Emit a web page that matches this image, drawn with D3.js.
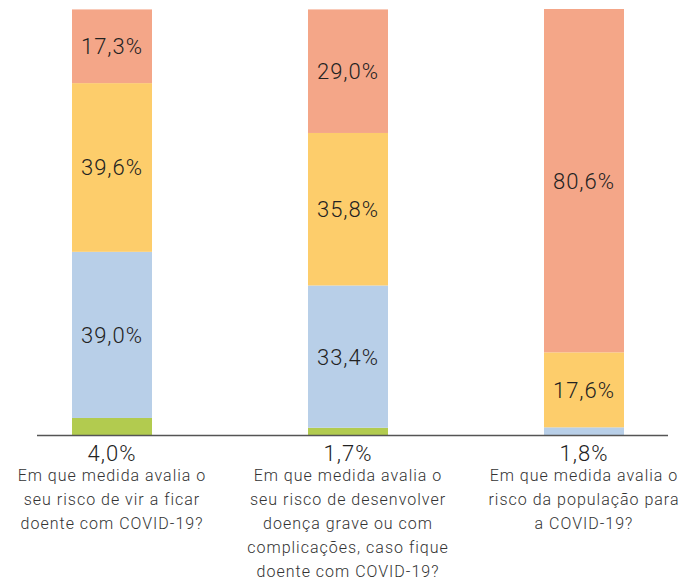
<!DOCTYPE html>
<html>
<head>
<meta charset="utf-8">
<style>
    body { margin: 0; background: #fff; }
    text { font-family: Roboto, "Liberation Sans", sans-serif; font-weight: 300; fill: #222; }
    .cat { font-size: 16px; letter-spacing: 1px; fill: #333; }
    .val { font-size: 22px; letter-spacing: 1px; }
</style>
</head>
<body>
<svg width="685" height="582"></svg>
<script src="https://d3js.org/d3.v7.min.js"></script>
<script>

    var categories = [
        ["Em que medida avalia o", "seu risco de vir a ficar", "doente com COVID-19?"],
        ["Em que medida avalia o", "seu risco de desenvolver", "doença grave ou com", "complicações, caso fique", "doente com COVID-19?"],
        ["Em que medida avalia o", "risco da população para", "a COVID-19?"]
    ];
    var green = [4.0, 1.7, 0];
    var blue = [39.0, 33.4, 1.8];
    var yellow = [39.6, 35.8, 17.6];
    var orange = [17.3, 29.0, 80.6];
    var seriesNames = ["green", "blue", "yellow", "orange"];
    var colors = ["#b2cb4f", "#b8cfe8", "#fdcd6b", "#f4a688"];

    var svg = d3.select("svg"),
        width = +svg.attr("width"),
        height = +svg.attr("height");

    var rows = categories.map(function (c, i) {
        return { i: i, green: green[i], blue: blue[i], yellow: yellow[i], orange: orange[i] };
    });

    var stack = d3.stack().keys(seriesNames)(rows);

    var x = d3.scaleBand().domain(d3.range(categories.length)).range([72, 624]).paddingInner(0.661).paddingOuter(0);
    var y = d3.scaleLinear().domain([0, 100]).range([435, 9]);

    var fmt = function (v) { return d3.format(".1f")(v).replace(".", ",") + "%"; };

    var layer = svg.selectAll(".layer").data(stack).enter().append("g")
        .attr("fill", function (d, i) { return colors[i]; });

    layer.selectAll("rect").data(function (d) { return d; }).enter().append("rect")
        .attr("x", function (d) { return x(d.data.i); })
        .attr("width", x.bandwidth())
        .attr("y", function (d) { return y(d[1]); })
        .attr("height", function (d) { return y(d[0]) - y(d[1]); });

    // value labels (small segments go below the axis)
    stack.forEach(function (s) {
        s.forEach(function (d) {
            var v = d[1] - d[0];
            if (v <= 0) return;
            var cx = x(d.data.i) + x.bandwidth() / 2;
            var cy = v < 5 ? 453 : (y(d[0]) + y(d[1])) / 2;
            svg.append("text").attr("class", "val")
                .attr("x", cx).attr("y", cy)
                .attr("text-anchor", "middle").attr("dy", "0.36em")
                .text(fmt(v));
        });
    });

    // axis line
    svg.append("line")
        .attr("x1", 37).attr("x2", 668)
        .attr("y1", y(0) + 0.5).attr("y2", y(0) + 0.5)
        .attr("stroke", "#555").attr("stroke-width", 1.5);

    // category labels
    categories.forEach(function (lines, i) {
        var t = svg.append("text").attr("class", "cat")
            .attr("text-anchor", "middle")
            .attr("x", x(i) + x.bandwidth() / 2)
            .attr("y", 481);
        lines.forEach(function (l, k) {
            t.append("tspan").attr("x", x(i) + x.bandwidth() / 2).attr("dy", k ? 24 : 0).text(l);
        });
    });

</script>
</body>
</html>
